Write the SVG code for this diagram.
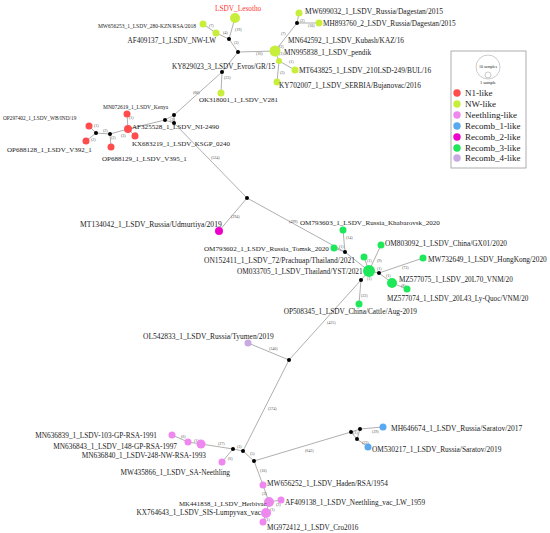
<svg xmlns="http://www.w3.org/2000/svg" width="550" height="533" viewBox="0 0 550 533">
<style>
text{font-family:"Liberation Serif","DejaVu Serif",serif;fill:#222}
.lb{font-size:7.3px}
.el{font-size:4px;fill:#555}
.lg{font-size:9px;fill:#222}
.e{stroke:#9a9a9a;stroke-width:0.8;fill:none}
.j{fill:#000}
.n1{fill:#ff4d4d}.nw{fill:#c8ee3c}.ne{fill:#ee88ee}.r1{fill:#5aa8f0}.r2{fill:#ee00cc}.r3{fill:#1ee85a}.r4{fill:#c9a8e4}
</style>
<rect width="550" height="533" fill="#fff"/>
<g id="connectors">
<path class="e" d="M235,18L229,39M203,24L216,33L229,39L238,52L275,51M238,52L222,72L221,93M275,51L297,23L299,13M297,23L319,23M275,51L279,61L295,70M279,61L277,82M222,72L174,115"/>
<path class="e" d="M174,115L165,120L174,123L174,115M165,120L128,129L127,114M128,129L135,136M128,129L110,134L111,147M110,134L96,133L89,126M96,133L86,141M174,123L247,198L219,231M247,198L345,252"/>
<path class="e" d="M345,252L343,230M345,252L334,248M345,252L369,271L364,257M369,271L381,245M369,271L379,273L423,258M379,273L392,283L407,289M369,271L361,280L359,304M361,280L289,360L248,343M289,360L243,451L233,449L201,444L188,442L172,435M233,449L222,462M243,451L254,461L351,432L360,429L383,427M351,432L357,439L368,447M360,429L357,439M254,461L263,485L269,502L281,500M269,502L266,513L263,522"/>
<text class="el" x="209" y="27">(7)</text><text class="el" x="223" y="34">(4)</text><text class="el" x="235" y="31">(19)</text><text class="el" x="234" y="44">(3)</text><text class="el" x="256" y="55">(16)</text><text class="el" x="281" y="35">(7)</text><text class="el" x="279" y="48">(2)</text><text class="el" x="279" y="55">(1)</text><text class="el" x="300" y="22">(2)</text><text class="el" x="308" y="27">(10)</text><text class="el" x="289" y="63">(1)</text><text class="el" x="280" y="74">(3)</text><text class="el" x="224" y="79">(23)</text><text class="el" x="193" y="94">(80)</text>
<text class="el" x="94" y="127">(1)</text><text class="el" x="91" y="141">(2)</text><text class="el" x="103" y="132">(2)</text><text class="el" x="111" y="139">(2)</text><text class="el" x="121" y="137">(3)</text><text class="el" x="129" y="119">(1)</text><text class="el" x="133" y="135">(1)</text><text class="el" x="170" y="121">(2)</text>
<text class="el" x="211" y="159">(524)</text><text class="el" x="231" y="218">(294)</text><text class="el" x="289" y="223">(499)</text><text class="el" x="346" y="239">(14)</text><text class="el" x="339" y="248">(1)</text><text class="el" x="367" y="262">(1)</text><text class="el" x="377" y="262">(9)</text><text class="el" x="377" y="270">(1)</text><text class="el" x="386" y="277">(1)</text><text class="el" x="402" y="269">(73)</text><text class="el" x="401" y="287">(8)</text><text class="el" x="367" y="280">(1)</text><text class="el" x="361" y="297">(22)</text><text class="el" x="327" y="324">(425)</text><text class="el" x="269" y="350">(340)</text><text class="el" x="268" y="410">(374)</text>
<text class="el" x="181" y="438">(6)</text><text class="el" x="194" y="442">(1)</text><text class="el" x="218" y="445">(27)</text><text class="el" x="237" y="448">(3)</text><text class="el" x="228" y="460">(6)</text><text class="el" x="250" y="455">(5)</text><text class="el" x="305" y="452">(642)</text><text class="el" x="260" y="472">(10)</text><text class="el" x="262" y="495">(3)</text><text class="el" x="276" y="506">(2)</text><text class="el" x="270" y="511">(1)</text><text class="el" x="265" y="521">(1)</text><text class="el" x="353" y="434">(1)</text><text class="el" x="372" y="433">(39)</text><text class="el" x="362" y="444">(22)</text>
</g>
<g id="j1"><circle class="j" cx="229" cy="39" r="2"/></g>
<g id="j2"><circle class="j" cx="238" cy="52" r="2"/></g>
<g id="j3"><circle class="j" cx="222" cy="72" r="2"/></g>
<g id="j4"><circle class="j" cx="297" cy="23" r="2"/></g>
<g id="j5"><circle class="j" cx="174" cy="115" r="2"/></g>
<g id="j6"><circle class="j" cx="165" cy="120" r="2"/></g>
<g id="j7"><circle class="j" cx="174" cy="123" r="2"/></g>
<g id="j8"><circle class="j" cx="110" cy="134" r="2"/></g>
<g id="j9"><circle class="j" cx="96" cy="133" r="2"/></g>
<g id="j10"><circle class="j" cx="247" cy="198" r="2"/></g>
<g id="j11"><circle class="j" cx="345" cy="252" r="2"/></g>
<g id="j12"><circle class="j" cx="379" cy="273" r="2"/></g>
<g id="j13"><circle class="j" cx="361" cy="280" r="2"/></g>
<g id="j14"><circle class="j" cx="289" cy="360" r="2"/></g>
<g id="j15"><circle class="j" cx="243" cy="451" r="2"/></g>
<g id="j16"><circle class="j" cx="233" cy="449" r="2"/></g>
<g id="j17"><circle class="j" cx="254" cy="461" r="2"/></g>
<g id="j18"><circle class="j" cx="351" cy="432" r="2"/></g>
<g id="j19"><circle class="j" cx="360" cy="429" r="2"/></g>
<g id="j20"><circle class="j" cx="357" cy="439" r="2"/></g>
<g id="lesotho"><circle class="nw" cx="235" cy="18" r="5"/><text x="215" y="10.5" style="font-size:7.3px;fill:#ff3333">LSDV_Lesotho</text></g>
<g id="MW656253"><circle class="nw" cx="203" cy="24" r="3.5"/><text class="lb" x="196" y="27.5" text-anchor="end" style="font-size:5.5px">MW656253_1_LSDV_280-KZN/RSA/2018</text></g>
<g id="AF409137"><circle class="nw" cx="216" cy="33" r="3.5"/><text class="lb" x="216" y="42.5" text-anchor="end" style="font-size:7.2px">AF409137_1_LSDV_NW-LW</text></g>
<g id="KY829023"><text class="lb" x="275" y="68.5" text-anchor="end" style="font-size:7.2px">KY829023_3_LSDV_Evros/GR/15</text></g>
<g id="OK318001"><circle class="nw" cx="221" cy="93" r="3.5"/><text class="lb" x="199" y="101.5" style="font-size:7px">OK318001_1_LSDV_V281</text></g>
<g id="MN995838"><circle class="nw" cx="275" cy="51" r="5.5"/><text class="lb" x="284" y="54.5">MN995838_1_LSDV_pendik</text></g>
<g id="MN642592"><text class="lb" x="288" y="42.5">MN642592_1_LSDV_Kubash/KAZ/16</text></g>
<g id="MW699032"><circle class="nw" cx="299" cy="13" r="3.5"/><text class="lb" x="305" y="14" style="font-size:7.5px">MW699032_1_LSDV_Russia/Dagestan/2015</text></g>
<g id="MH893760"><circle class="nw" cx="319" cy="23" r="3.5"/><text class="lb" x="323" y="25.5">MH893760_2_LSDV_Russia/Dagestan/2015</text></g>
<g id="nw61"><circle class="nw" cx="279" cy="61" r="3"/></g>
<g id="MT643825"><circle class="nw" cx="295" cy="70" r="3.5"/><text class="lb" x="299" y="72.5" style="font-size:7.4px">MT643825_1_LSDV_210LSD-249/BUL/16</text></g>
<g id="KY702007"><circle class="nw" cx="277" cy="82" r="3.5"/><text class="lb" x="279" y="87.5">KY702007_1_LSDV_SERBIA/Bujanovac/2016</text></g>
<g id="MN072619"><circle class="n1" cx="127" cy="114" r="3.5"/><text class="lb" x="103" y="109" style="font-size:5.5px">MN072619_1_LSDV_Kenya</text></g>
<g id="AF325528"><circle class="n1" cx="128" cy="129" r="4"/><text class="lb" x="132" y="128.5" style="font-size:7.1px">AF325528_1_LSDV_NI-2490</text></g>
<g id="KX683219"><circle class="n1" cx="135" cy="136" r="3.5"/><text class="lb" x="132" y="145.5" style="font-size:6.95px">KX683219_1_LSDV_KSGP_0240</text></g>
<g id="OP688129"><circle class="n1" cx="111" cy="147" r="3.5"/><text class="lb" x="102" y="160.5" style="font-size:7px">OP688129_1_LSDV_V395_1</text></g>
<g id="OP297402"><circle class="n1" cx="89" cy="126" r="3.5"/><text class="lb" x="3" y="120" style="font-size:5.3px">OP297402_1_LSDV_WB/IND/19</text></g>
<g id="OP688128"><circle class="n1" cx="86" cy="141" r="3.5"/><text class="lb" x="7" y="151.5" style="font-size:7px">OP688128_1_LSDV_V392_1</text></g>
<g id="MT134042"><circle class="r2" cx="219" cy="231" r="4"/><text class="lb" x="80" y="226.5" style="font-size:7.6px">MT134042_1_LSDV_Russia/Udmurtiya/2019</text></g>
<g id="OM793603"><circle class="r3" cx="343" cy="230" r="3.5"/><text class="lb" x="300" y="224.5" style="font-size:7.1px">OM793603_1_LSDV_Russia_Khabarovsk_2020</text></g>
<g id="OM793602"><circle class="r3" cx="334" cy="248" r="3.5"/><text class="lb" x="204" y="250.5" style="font-size:7.1px">OM793602_1_LSDV_Russia_Tomsk_2020</text></g>
<g id="ON152411"><circle class="r3" cx="364" cy="257" r="3.5"/><text class="lb" x="204" y="262.5" style="font-size:7.5px">ON152411_1_LSDV_72/Prachuap/Thailand/2021</text></g>
<g id="OM033705"><circle class="r3" cx="369" cy="271" r="6"/><text class="lb" x="237" y="273.5">OM033705_1_LSDV_Thailand/YST/2021</text></g>
<g id="OM803092"><circle class="r3" cx="381" cy="245" r="3.5"/><text class="lb" x="385" y="245.5" style="font-size:7.35px">OM803092_1_LSDV_China/GX01/2020</text></g>
<g id="MW732649"><circle class="r3" cx="423" cy="258" r="3.5"/><text class="lb" x="428" y="261.5" style="font-size:7.35px">MW732649_1_LSDV_HongKong/2020</text></g>
<g id="MZ577075"><circle class="r3" cx="392" cy="283" r="5"/><text class="lb" x="399" y="281.5" style="font-size:7.2px">MZ577075_1_LSDV_20L70_VNM/20</text></g>
<g id="MZ577074"><circle class="r3" cx="407" cy="289" r="3.5"/><text class="lb" x="387" y="300.5" style="font-size:7.2px">MZ577074_1_LSDV_20L43_Ly-Quoc/VNM/20</text></g>
<g id="OP508345"><circle class="r3" cx="359" cy="304" r="3.5"/><text class="lb" x="417" y="313.5" text-anchor="end">OP508345_1_LSDV_China/Cattle/Aug-2019</text></g>
<g id="OL542833"><circle class="r4" cx="248" cy="343" r="3.5"/><text class="lb" x="143" y="338.5" style="font-size:7.5px">OL542833_1_LSDV_Russia/Tyumen/2019</text></g>
<g id="MN636839"><circle class="ne" cx="172" cy="435" r="3.5"/><text class="lb" x="157" y="437.5" text-anchor="end">MN636839_1_LSDV-103-GP-RSA-1991</text></g>
<g id="MN636843"><circle class="ne" cx="188" cy="442" r="3.5"/><text class="lb" x="177" y="448.5" text-anchor="end">MN636843_1_LSDV_148-GP-RSA-1997</text></g>
<g id="MN636840"><circle class="ne" cx="201" cy="444" r="4.5"/><text class="lb" x="206" y="457.5" text-anchor="end">MN636840_1_LSDV-248-NW-RSA-1993</text></g>
<g id="MW435866"><circle class="ne" cx="222" cy="462" r="3.5"/><text class="lb" x="230" y="474.5" text-anchor="end">MW435866_1_LSDV_SA-Neethling</text></g>
<g id="MW656252"><circle class="ne" cx="263" cy="485" r="3.5"/><text class="lb" x="267" y="485.5">MW656252_1_LSDV_Haden/RSA/1954</text></g>
<g id="MK441838"><circle class="ne" cx="269" cy="502" r="5"/><text class="lb" x="179" y="505.5" style="font-size:6.8px">MK441838_1_LSDV_Herbivac</text></g>
<g id="AF409138"><circle class="ne" cx="281" cy="500" r="3.5"/><text class="lb" x="285" y="504.5">AF409138_1_LSDV_Neethling_vac_LW_1959</text></g>
<g id="KX764643"><circle class="ne" cx="266" cy="513" r="5"/><text class="lb" x="261" y="514.5" text-anchor="end">KX764643_1_LSDV_SIS-Lumpyvax_vac</text></g>
<g id="MG972412"><circle class="ne" cx="263" cy="522" r="3.5"/><text class="lb" x="267" y="529.5" style="font-size:7.2px">MG972412_1_LSDV_Cro2016</text></g>
<g id="MH646674"><circle class="r1" cx="383" cy="427" r="3.5"/><text class="lb" x="391" y="430.5" style="font-size:7.5px">MH646674_1_LSDV_Russia/Saratov/2017</text></g>
<g id="OM530217"><circle class="r1" cx="368" cy="447" r="3.5"/><text class="lb" x="372" y="451.5" style="font-size:7.4px">OM530217_1_LSDV_Russia/Saratov/2019</text></g>
<g id="legend">
<rect x="451" y="51" width="75" height="117" fill="#fff" stroke="#999" stroke-width="0.8"/>
<circle cx="488" cy="67" r="12" fill="#fff" stroke="#aaa" stroke-width="0.6"/>
<circle cx="488" cy="75" r="3" fill="#fff" stroke="#aaa" stroke-width="0.6"/>
<text x="488" y="68" text-anchor="middle" style="font-size:4px">10 samples</text>
<text x="488" y="84" text-anchor="middle" style="font-size:4.5px">1 sample</text>
<circle class="n1" cx="457" cy="93" r="3.7"/><text class="lg" x="465" y="96">N1-like</text>
<circle class="nw" cx="457" cy="104" r="3.7"/><text class="lg" x="465" y="107">NW-like</text>
<circle class="ne" cx="457" cy="115" r="3.7"/><text class="lg" x="465" y="118">Neethling-like</text>
<circle class="r1" cx="457" cy="126" r="3.7"/><text class="lg" x="465" y="129">Recomb_1-like</text>
<circle class="r2" cx="457" cy="137" r="3.7"/><text class="lg" x="465" y="140">Recomb_2-like</text>
<circle class="r3" cx="457" cy="148" r="3.7"/><text class="lg" x="465" y="151">Recomb_3-like</text>
<circle class="r4" cx="457" cy="158" r="3.7"/><text class="lg" x="465" y="161">Recomb_4-like</text>
</g>
</svg>
